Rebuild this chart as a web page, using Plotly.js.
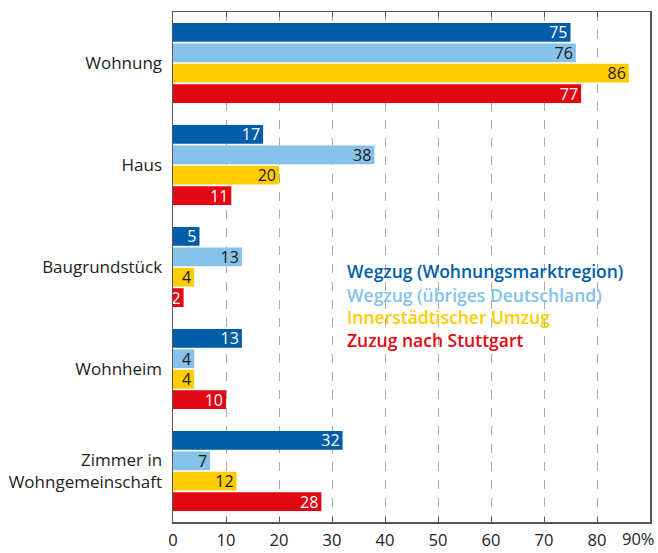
<!DOCTYPE html>
<html><head><meta charset="utf-8">
<script src="https://cdn.plot.ly/plotly-3.0.1.min.js"></script>
<style>body{margin:0;padding:0;background:#fff}</style>
</head><body>
<div id="chart" style="width:658px;height:553px"></div>
<script>
const categories = ["Wohnung", "Haus", "Baugrundstück", "Wohnheim", "Zimmer in<br>Wohngemeinschaft"];
const seriesNames = ["Wegzug (Wohnungsmarktregion)", "Wegzug (übriges Deutschland)", "Innerstädtischer Umzug", "Zuzug nach Stuttgart"];
const wegzugRegion = [75, 17, 5, 13, 32];
const wegzugDeutschland = [76, 38, 13, 4, 7];
const innerstaedtisch = [86, 20, 4, 4, 12];
const zuzugStuttgart = [77, 11, 2, 10, 28];
const tickVals = [0, 10, 20, 30, 40, 50, 60, 70, 80, 90];
const tickText = ["0", "10", "20", "30", "40", "50", "60", "70", "80", "90%"];

const colors = ["#005EA8", "#85C1E9", "#FFCC00", "#E30613"];
const textColors = ["#ffffff", "#1a1a1a", "#1a1a1a", "#ffffff"];
const allValues = [wegzugRegion, wegzugDeutschland, innerstaedtisch, zuzugStuttgart];

const font = "Open Sans, Noto Sans, sans-serif";
const traces = allValues.map((vals, i) => ({
  type: "bar",
  orientation: "h",
  name: seriesNames[i],
  y: categories,
  x: vals,
  marker: {color: colors[i]},
  text: vals.map(String),
  textposition: "inside",
  textangle: 0,
  insidetextanchor: "end",
  constraintext: "none",
  cliponaxis: false,
  textfont: {family: font, size: 16, color: textColors[i]},
  hoverinfo: "skip"
}));

const annotations = seriesNames.map((n, i) => ({
  xref: "paper", yref: "paper",
  x: 0.362, y: [0.492, 0.446, 0.401, 0.356][i],
  xanchor: "left", yanchor: "middle",
  text: n, showarrow: false, borderpad: 0,
  font: {family: font, size: 17.5, color: colors[i], weight: 600}
}));
// last tick label, right-aligned at the plot edge (as in the original)
annotations.push({
  xref: "x", yref: "paper", x: tickVals[tickVals.length - 1], y: 0,
  xanchor: "right", yanchor: "top", yshift: -4, xshift: 6, borderpad: 0,
  text: tickText[tickText.length - 1], showarrow: false,
  font: {family: font, size: 16.5, color: "#222"}
});

const layout = {
  width: 658, height: 553,
  margin: {l: 173, r: 8, t: 12, b: 31},
  paper_bgcolor: "#fff", plot_bgcolor: "#fff",
  barmode: "group", bargap: 0.2, bargroupgap: 0.08,
  showlegend: false,
  font: {family: font, size: 16, color: "#222"},
  xaxis: {
    range: [0, 90],
    tickvals: tickVals.slice(0, -1), ticktext: tickText.slice(0, -1),
    showgrid: true, gridcolor: "#aaaaaa", griddash: "dash", gridwidth: 1,
    showline: true, linecolor: "#555", linewidth: 1.5, mirror: "ticks",
    ticks: "inside", ticklen: 5, tickcolor: "#555",
    ticklabelstandoff: 3,
    tickfont: {family: font, size: 16.5, color: "#222"},
    zeroline: false, fixedrange: true
  },
  yaxis: {
    autorange: "reversed",
    showline: true, linecolor: "#555", linewidth: 1.5, mirror: true,
    ticks: "", ticklabelstandoff: 6,
    tickfont: {family: font, size: 17, color: "#222"},
    showgrid: false, zeroline: false, fixedrange: true
  },
  annotations: annotations
};

Plotly.newPlot("chart", traces, layout, {displayModeBar: false, staticPlot: true});
</script>
</body></html>
